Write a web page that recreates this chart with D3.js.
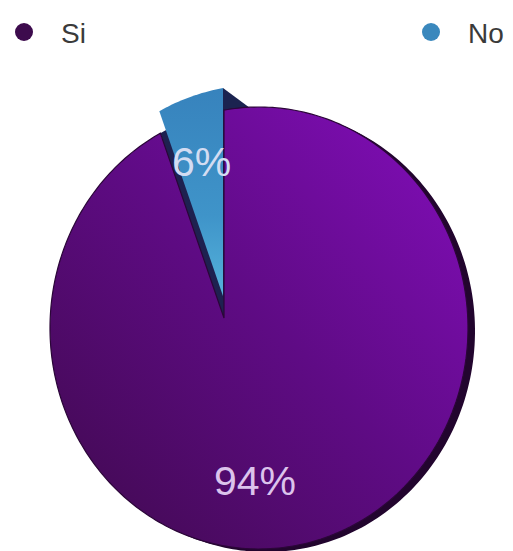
<!DOCTYPE html>
<html><head><meta charset="utf-8">
<script src="https://cdn.jsdelivr.net/npm/d3@7/dist/d3.min.js"></script>
<style>html,body{margin:0;padding:0;background:#fff;}svg{display:block;}</style>
</head><body>
<svg id="chart" width="513" height="551"></svg>
<script>
// ---- data ----
const categories = ["Si", "No"];
const values = [94, 6];
const labels = ["94%", "6%"];

// ---- style / layout ----
const W = 513, H = 551;
const ell = {cx: 259, cy: 328, rx: 209, ry: 221};   // rim ellipse of the tilted pie
const apex = {x: 224, y: 318};                        // projected pie centre
const kx = 0.87;                                      // horizontal foreshortening of directions
const explode = {No: [-1, -22], Si: [0, 0]};
const depth = [7, 3];
const labelFrac = {Si: 0.705, No: 0.675};
const labelNudge = {Si: [4, 0], No: [1, 0]};
const legendColor = {Si: "#3d0b4d", No: "#3a88bd"};

const svg = d3.select("#chart");
const defs = svg.append("defs");
const gSi = defs.append("linearGradient").attr("id", "gSi").attr("gradientUnits", "userSpaceOnUse")
  .attr("x1", 430).attr("y1", 150).attr("x2", 90).attr("y2", 470);
gSi.append("stop").attr("offset", 0).attr("stop-color", "#7d0db2");
gSi.append("stop").attr("offset", 0.5).attr("stop-color", "#5f0b85");
gSi.append("stop").attr("offset", 1).attr("stop-color", "#470a5b");
const gNo = defs.append("linearGradient").attr("id", "gNo").attr("gradientUnits", "userSpaceOnUse")
  .attr("x1", 0).attr("y1", 90).attr("x2", 0).attr("y2", 300);
gNo.append("stop").attr("offset", 0).attr("stop-color", "#3783bd");
gNo.append("stop").attr("offset", 0.6).attr("stop-color", "#3f94c9");
gNo.append("stop").attr("offset", 1).attr("stop-color", "#56b4dc");

// ray-cast from the apex to the rim ellipse for a pie angle
function rimT(theta) {
  const dx = kx * Math.sin(theta), dy = -Math.cos(theta);
  const px = apex.x - ell.cx, py = apex.y - ell.cy;
  const a = (dx / ell.rx) ** 2 + (dy / ell.ry) ** 2;
  const b = 2 * (px * dx / ell.rx ** 2 + py * dy / ell.ry ** 2);
  const c = (px / ell.rx) ** 2 + (py / ell.ry) ** 2 - 1;
  const t = (-b + Math.sqrt(b * b - 4 * a * c)) / (2 * a);
  return {dx, dy, t};
}
function proj(theta, frac = 1) {
  const r = rimT(theta);
  return [apex.x + r.dx * r.t * frac, apex.y + r.dy * r.t * frac];
}

const pie = d3.pie().sort(null).value(d => d.v);
const arcs = pie(categories.map((c, i) => ({c, v: values[i], l: labels[i]})));
const line = d3.line();

function slicePts(d, off = [0, 0]) {
  const n = Math.max(4, Math.ceil((d.endAngle - d.startAngle) / 0.02));
  const pts = [[apex.x + off[0], apex.y + off[1]]];
  d3.range(n + 1).forEach(i => {
    const th = d.startAngle + (d.endAngle - d.startAngle) * i / n;
    const p = proj(th);
    pts.push([p[0] + off[0], p[1] + off[1]]);
  });
  return pts;
}

const si = arcs.find(d => d.data.c === "Si");
const no = arcs.find(d => d.data.c === "No");

// depth of the main slice
svg.append("path").attr("d", line(slicePts(si, depth)) + "Z").attr("fill", "#22052e");
// dark gap left behind by the exploded slice
svg.append("path").attr("d", line(slicePts(no)) + "Z").attr("fill", "#1e2150");
// side face of the exploded slice
const nOff = explode.No;
const cEnd = proj(no.endAngle);
const c0 = [cEnd[0] + nOff[0], cEnd[1] + nOff[1]];
svg.append("path").attr("d", line([c0, [c0[0] + 27, c0[1] + 20], [apex.x + 2, apex.y], [apex.x + nOff[0], apex.y + nOff[1]]]) + "Z")
  .attr("fill", "#1b2350");
// main slice
svg.append("path").attr("d", line(slicePts(si)) + "Z").attr("fill", "url(#gSi)")
  .attr("stroke", "#2b0638").attr("stroke-width", 1.2);
// exploded slice
svg.append("path").attr("d", line(slicePts(no, nOff)) + "Z").attr("fill", "url(#gNo)");

// labels
arcs.forEach(d => {
  const mid = (d.startAngle + d.endAngle) / 2;
  const p = proj(mid, labelFrac[d.data.c]);
  const o = explode[d.data.c], nd = labelNudge[d.data.c];
  svg.append("text").attr("x", p[0] + o[0] + nd[0]).attr("y", p[1] + o[1] + nd[1])
    .attr("text-anchor", "middle").attr("dominant-baseline", "central")
    .attr("font-family", "'Liberation Sans', Arial, sans-serif").attr("font-size", 41)
    .attr("fill", d.data.c === "Si" ? "#dcc3ec" : "#d3dcf2")
    .text(d.data.l);
});

// legend
const legX = {Si: 24, No: 431};
categories.forEach(c => {
  const g = svg.append("g");
  g.append("circle").attr("cx", legX[c]).attr("cy", 32).attr("r", 9).attr("fill", legendColor[c]);
  g.append("text").attr("x", legX[c] + 37).attr("y", 43)
    .attr("font-family", "'Liberation Sans', Arial, sans-serif").attr("font-size", 28)
    .attr("fill", "#3a3a3a").text(c);
});
</script>
</body></html>
